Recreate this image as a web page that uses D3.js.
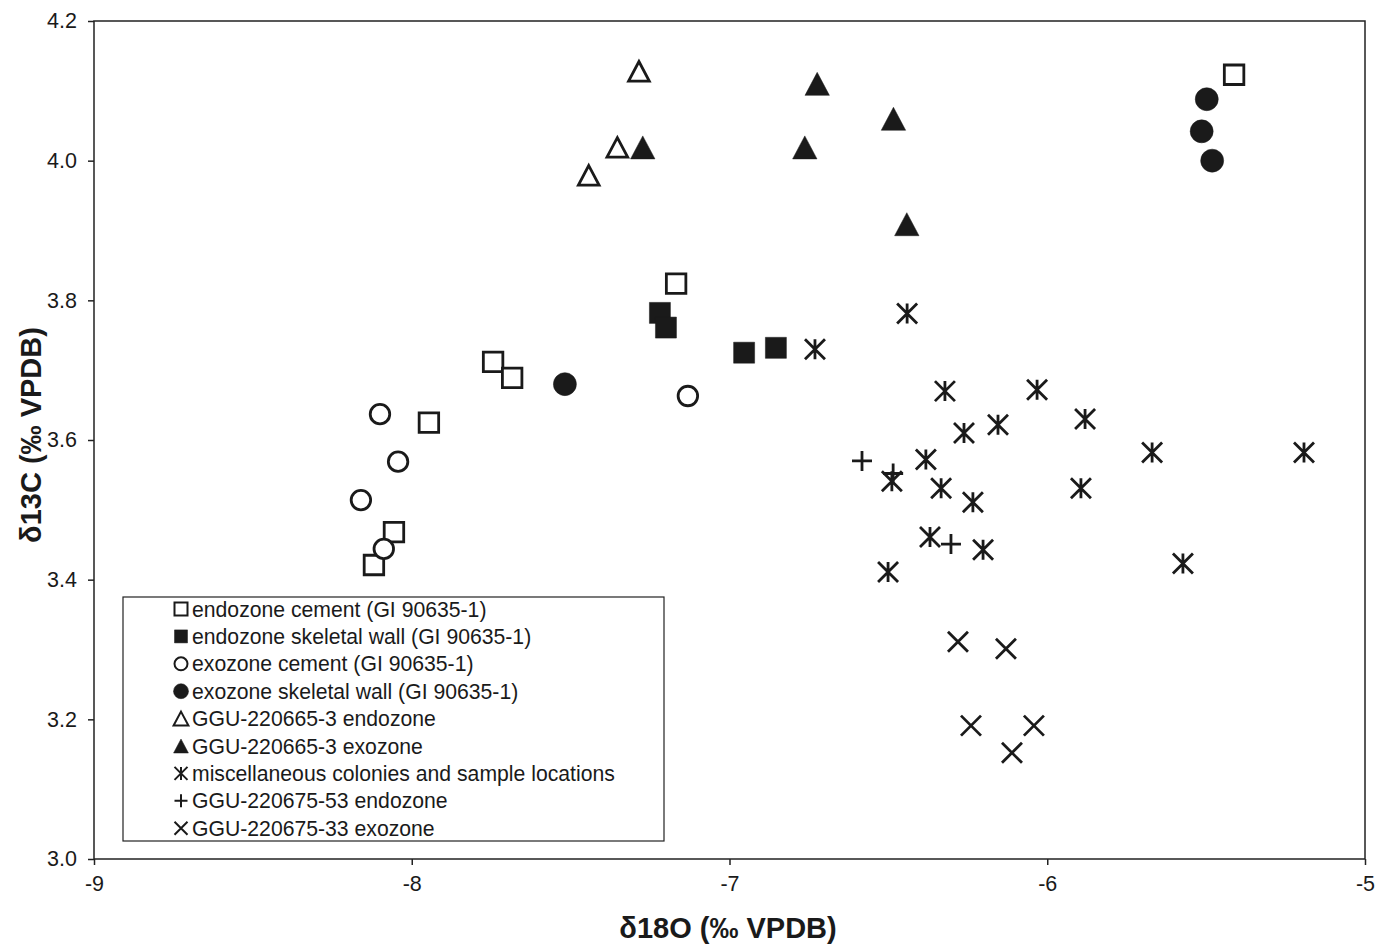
<!DOCTYPE html>
<html>
<head>
<meta charset="utf-8">
<script src="https://cdn.jsdelivr.net/npm/d3@7"></script>
<style>
  body { margin: 0; background: #fff; }
  text { font-family: "Liberation Sans", Arial, sans-serif; fill: #1a1a1a; }
</style>
</head>
<body>
<div id="chart"></div>
<script>
// d18O, d13C pairs
const endoCement = [[-5.412, 4.123], [-7.168, 3.824], [-7.744, 3.712], [-7.684, 3.689],
                    [-7.946, 3.625], [-8.056, 3.468], [-8.119, 3.421]]
const endoWall = [[-7.219, 3.782], [-7.200, 3.761], [-6.954, 3.725], [-6.854, 3.732]]
const exoCement = [[-8.100, 3.637], [-8.043, 3.569], [-8.160, 3.514], [-8.088, 3.444], [-7.131, 3.663]]
const exoWall = [[-7.518, 3.680], [-5.498, 4.088], [-5.514, 4.042], [-5.481, 4.000]]
const ggu3Endo = [[-7.285, 4.128], [-7.353, 4.019], [-7.443, 3.979]]
const ggu3Exo = [[-7.273, 4.019], [-6.724, 4.110], [-6.484, 4.060], [-6.763, 4.019], [-6.442, 3.909]]
const misc = [[-6.441, 3.781], [-6.731, 3.730], [-6.322, 3.670], [-6.032, 3.672], [-6.262, 3.610],
              [-6.155, 3.622], [-5.881, 3.630], [-5.670, 3.582], [-5.192, 3.582], [-6.382, 3.572],
              [-6.489, 3.541], [-6.334, 3.531], [-6.234, 3.511], [-5.894, 3.531], [-6.369, 3.461],
              [-6.202, 3.443], [-6.501, 3.411], [-5.573, 3.423]]
const ggu53Endo = [[-6.583, 3.570], [-6.485, 3.552], [-6.303, 3.451]]
const ggu33Exo = [[-6.281, 3.311], [-6.130, 3.301], [-6.240, 3.191], [-6.042, 3.191], [-6.111, 3.152]]

const seriesNames = ["endozone cement (GI 90635-1)", "endozone skeletal wall (GI 90635-1)",
                     "exozone cement (GI 90635-1)", "exozone skeletal wall (GI 90635-1)",
                     "GGU-220665-3 endozone", "GGU-220665-3 exozone",
                     "miscellaneous colonies and sample locations",
                     "GGU-220675-53 endozone", "GGU-220675-33 exozone"]
const seriesData = [endoCement, endoWall, exoCement, exoWall, ggu3Endo, ggu3Exo, misc, ggu53Endo, ggu33Exo]
const seriesShape = ["square", "square", "circle", "circle", "triangle", "triangle", "asterisk", "plus", "cross"]
const seriesFilled = [false, true, false, true, false, true, false, false, false]

const xTicks = [-9, -8, -7, -6, -5]
const yTicks = [3.0, 3.2, 3.4, 3.6, 3.8, 4.0, 4.2]

const width = 1389, height = 944
const ink = "#1a1a1a"

const xScale = d3.scaleLinear().domain([-9, -5]).range([94, 1365])
const yScale = d3.scaleLinear().domain([3.0, 4.2]).range([859, 21])

const svg = d3.select("#chart").append("svg")
  .attr("width", width)
  .attr("height", height)

// marker path, centred on 0,0; s = full size
function markerPath(shape, s) {
  const h = s / 2
  if (shape === "square") {
    return `M${-h},${-h}H${h}V${h}H${-h}Z`
  }
  if (shape === "circle") {
    return `M${h},0A${h},${h} 0 1,1 ${-h},0A${h},${h} 0 1,1 ${h},0Z`
  }
  if (shape === "triangle") {
    const w = h * 1.06
    return `M0,${-h}L${w},${h}L${-w},${h}Z`
  }
  if (shape === "asterisk") {
    return `M0,${-h}V${h}M${-h},${-h}L${h},${h}M${h},${-h}L${-h},${h}`
  }
  if (shape === "plus") {
    return `M0,${-h}V${h}M${-h},0H${h}`
  }
  return `M${-h},${-h}L${h},${h}M${h},${-h}L${-h},${h}`
}

function markerSize(shape, filled) {
  if (shape === "square") return filled ? 21 : 19.5
  if (shape === "circle") return filled ? 23 : 19.5
  if (shape === "triangle") return filled ? 23 : 19.5
  return 20
}

function styleMarker(sel, shape, filled) {
  const open = (shape === "square" || shape === "circle" || shape === "triangle") && !filled
  sel.attr("fill", filled ? ink : (open ? "#fff" : "none"))
     .attr("stroke", ink)
     .attr("stroke-width", filled ? 0.5 : 2.8)
     .attr("stroke-linejoin", "miter")
}

// plot frame
svg.append("rect")
  .attr("x", xScale(-9)).attr("y", yScale(4.2))
  .attr("width", xScale(-5) - xScale(-9))
  .attr("height", yScale(3.0) - yScale(4.2))
  .attr("fill", "none").attr("stroke", "#222").attr("stroke-width", 1.5)

// X axis
const xAxis = d3.axisBottom(xScale).tickValues(xTicks).tickSize(6).tickPadding(11)
  .tickFormat(d => String(d))
const gx = svg.append("g")
  .attr("transform", "translate(0," + yScale(3.0) + ")")
  .call(xAxis)
gx.select(".domain").remove()
gx.selectAll("line").attr("stroke", "#222").attr("stroke-width", 1.5)
gx.selectAll("text").attr("font-size", 21.5).attr("fill", ink)
  .style("font-family", '"Liberation Sans", Arial, sans-serif')

// Y axis
const yAxis = d3.axisLeft(yScale).tickValues(yTicks).tickSize(6).tickPadding(11)
  .tickFormat(d3.format(".1f"))
const gy = svg.append("g")
  .attr("transform", "translate(" + xScale(-9) + ",0)")
  .call(yAxis)
gy.select(".domain").remove()
gy.selectAll("line").attr("stroke", "#222").attr("stroke-width", 1.5)
gy.selectAll("text").attr("font-size", 21.5).attr("fill", ink)
  .style("font-family", '"Liberation Sans", Arial, sans-serif')

// axis titles
svg.append("text")
  .text("δ18O (‰ VPDB)")
  .attr("x", 728)
  .attr("y", 938)
  .attr("text-anchor", "middle")
  .attr("font-size", 29)
  .attr("font-weight", "bold")

svg.append("text")
  .text("δ13C (‰ VPDB)")
  .attr("text-anchor", "middle")
  .attr("font-size", 29)
  .attr("font-weight", "bold")
  .attr("transform", "translate(41," + 435 + ")rotate(-90)")

// points
seriesData.forEach((data, i) => {
  const shape = seriesShape[i], filled = seriesFilled[i]
  const g = svg.append("g").attr("class", "series-" + i)
  g.selectAll("path")
    .data(data).enter()
    .append("path")
      .attr("d", markerPath(shape, markerSize(shape, filled)))
      .attr("transform", d => "translate(" + xScale(d[0]) + "," + yScale(d[1]) + ")")
      .call(styleMarker, shape, filled)
})

// legend
const legend = svg.append("g").attr("class", "legend")
legend.append("rect")
  .attr("x", 123).attr("y", 597).attr("width", 541).attr("height", 244)
  .attr("fill", "#fff").attr("stroke", "#222").attr("stroke-width", 1.2)

const rowH = 27.4
seriesNames.forEach((name, i) => {
  const cy = 609 + i * rowH
  const shape = seriesShape[i], filled = seriesFilled[i]
  const s = shape === "circle" ? (filled ? 15 : 13) : shape === "triangle" ? 14 : 13
  legend.append("path")
    .attr("d", markerPath(shape, s))
    .attr("transform", "translate(181," + cy + ")")
    .call(styleMarker, shape, filled)
    .attr("stroke-width", filled ? 0.5 : 2)
  legend.append("text")
    .text(name)
    .attr("x", 192)
    .attr("y", cy + 7.5)
    .attr("font-size", 21.2)
})
</script>
</body>
</html>
